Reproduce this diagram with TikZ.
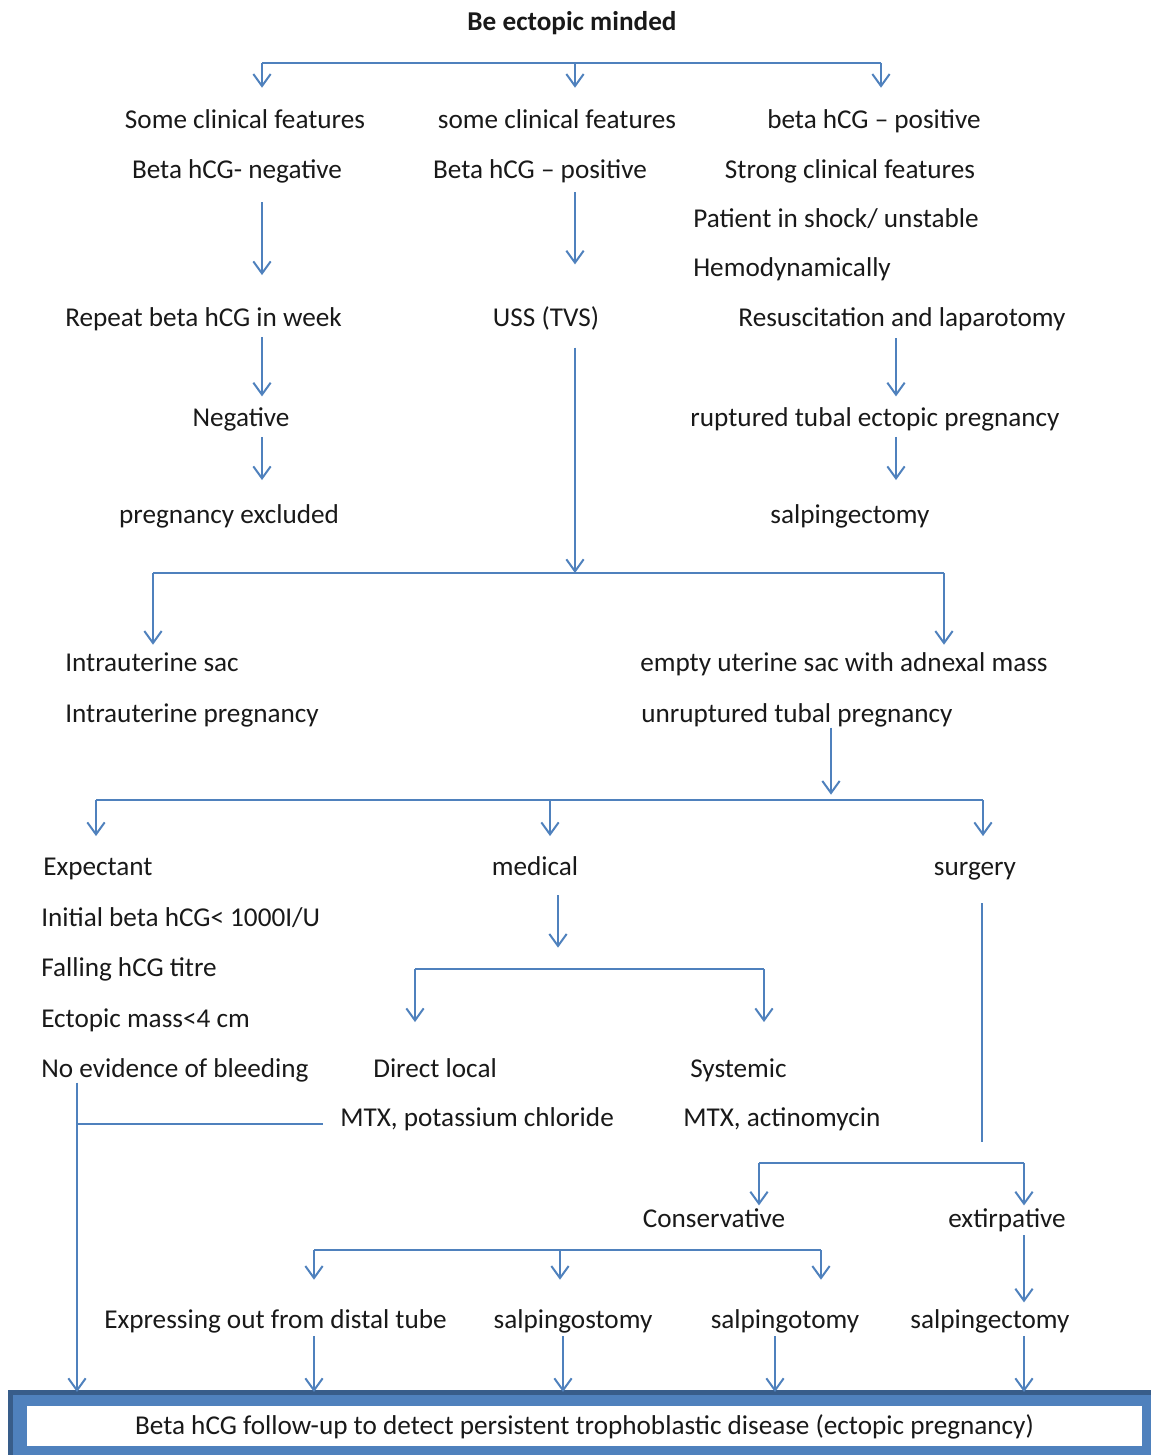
\documentclass[tikz,border=0pt]{standalone}
\usepackage{fontspec}
\setmainfont{Carlito}
\usepackage{tikz}
\usetikzlibrary{arrows.meta, calc}
\definecolor{linkblue}{RGB}{79,129,189}
\definecolor{boxblue}{RGB}{79,129,189}
\definecolor{framedark}{RGB}{56,93,138}
\tikzstyle{txt} = [inner sep=0pt, text height=16.5pt, text depth=3.5pt, font=\fontsize{20.4}{24}\selectfont, text=black!90]
\tikzstyle{link} = [draw=linkblue, line width=1.5pt]
\tikzstyle{arrow} = [link, -{Straight Barb[length=9pt, width=13pt]}]

\begin{document}
\begin{tikzpicture}[x=0.75pt, y=-0.75pt]
	\useasboundingbox (0,0) rectangle (1150,1455);
	\node (Title) [txt, font=\fontsize{20.4}{24}\selectfont\bfseries] at (572,22) {Be ectopic minded};
	% first level
	\node (Feat1) [txt] at (245,120) {Some clinical features};
	\node (Neg1) [txt] at (237,170) {Beta hCG- negative};
	\node (Repeat) [txt, anchor=west] at (65,318) {Repeat beta hCG in week};
	\node (Negative) [txt] at (241,418) {Negative};
	\node (Excluded) [txt] at (229,515) {pregnancy excluded};
	\node (Feat2) [txt] at (557,120) {some clinical features};
	\node (Pos2) [txt] at (540,170) {Beta hCG -- positive};
	\node (USS) [txt] at (546,318) {USS (TVS)};
	\node (Pos3) [txt] at (874,120) {beta hCG -- positive};
	\node (Strong) [txt] at (850,170) {Strong clinical features};
	\node (Shock) [txt, anchor=west] at (693,219) {Patient in shock/ unstable};
	\node (Hemo) [txt, anchor=west] at (693,268) {Hemodynamically};
	\node (Resus) [txt] at (902,318) {Resuscitation and laparotomy};
	\node (Ruptured) [txt] at (875,418) {ruptured tubal ectopic pregnancy};
	\node (Salpx1) [txt] at (850,515) {salpingectomy};
	% scan result
	\node (IUsac) [txt, anchor=west] at (65,663) {Intrauterine sac};
	\node (IUpreg) [txt, anchor=west] at (65,714) {Intrauterine pregnancy};
	\node (Empty) [txt, anchor=west] at (640,663) {empty uterine sac with adnexal mass};
	\node (Unrupt) [txt, anchor=west] at (641,714) {unruptured tubal pregnancy};
	% management
	\node (Expectant) [txt, anchor=west] at (43,867) {Expectant};
	\node (Initial) [txt, anchor=west] at (41,918) {Initial beta hCG< 1000I/U};
	\node (Falling) [txt, anchor=west] at (41,968) {Falling hCG titre};
	\node (Mass) [txt, anchor=west] at (41,1019) {Ectopic mass<4 cm};
	\node (Bleeding) [txt, anchor=west] at (41,1069) {No evidence of bleeding};
	\node (Medical) [txt] at (535,867) {medical};
	\node (Surgery) [txt] at (975,867) {surgery};
	\node (Direct) [txt, anchor=west] at (373,1069) {Direct local};
	\node (Kcl) [txt, anchor=west] at (340,1118) {MTX, potassium chloride};
	\node (Systemic) [txt, anchor=west] at (690,1069) {Systemic};
	\node (Actino) [txt, anchor=west] at (683,1118) {MTX, actinomycin};
	\node (Conservative) [txt] at (714,1219) {Conservative};
	\node (Extirp) [txt] at (1007,1219) {extirpative};
	\node (Distal) [txt, anchor=west] at (104,1320) {Expressing out from distal tube};
	\node (Ostomy) [txt] at (573,1320) {salpingostomy};
	\node (Otomy) [txt] at (785,1320) {salpingotomy};
	\node (Salpx2) [txt] at (990,1320) {salpingectomy};
	% follow-up box
	\node (Frame) [anchor=north west, fill=boxblue, minimum width=862.5pt, minimum height=52.5pt, inner sep=0pt] at (10,1392) {};
	\draw [framedark, line width=3.75pt] (Frame.south west) -- (Frame.north west) -- (Frame.north east);
	\node (FollowUp) [txt, fill=white, minimum width=836pt, minimum height=30pt] at (584.5,1426) {Beta hCG follow-up to detect persistent trophoblastic disease (ectopic pregnancy)};
	% branch points
	\coordinate (TopL) at (262,63);
	\coordinate (TopM) at (575,63);
	\coordinate (TopR) at (881,63);
	\coordinate (SplitL) at (153,573);
	\coordinate (SplitM) at (575,573);
	\coordinate (SplitR) at (944,573);
	\coordinate (MgmtL) at (96,800);
	\coordinate (MgmtM) at (550,800);
	\coordinate (MgmtR) at (983,800);
	\coordinate (MedL) at (415,969);
	\coordinate (MedR) at (764,969);
	\coordinate (SurgL) at (759,1163);
	\coordinate (SurgR) at (1024,1163);
	\coordinate (ConsL) at (314,1250);
	\coordinate (ConsM) at (560,1250);
	\coordinate (ConsR) at (821,1250);
	\coordinate (RightCol) at (896,0);
	\coordinate (TubalDrop) at (831,0);
	\coordinate (MedDrop) at (558,0);
	\coordinate (SurgDrop) at (982,0);
	\coordinate (ExpDrop) at (77,0);
	\coordinate (OstomyDrop) at (563,0);
	\coordinate (OtomyDrop) at (775,0);
	% top branches
	\draw [link] (TopL) -- (TopR);
	\draw [arrow, shorten >=14pt] (TopL) -- (TopL |- Feat1.north);
	\draw [arrow, shorten >=14pt] (TopM) -- (TopM |- Feat2.north);
	\draw [arrow, shorten >=14pt] (TopR) -- (TopR |- Pos3.north);
	% left column
	\draw [arrow, shorten <=14pt, shorten >=22pt] (Neg1.south -| TopL) -- (Repeat.north -| TopL);
	\draw [arrow, shorten <=4pt, shorten >=6pt] (Repeat.south -| TopL) -- (Negative.north -| TopL);
	\draw [arrow, shorten <=4pt, shorten >=16pt] (Negative.south -| TopL) -- (Excluded.north -| TopL);
	% middle column
	\draw [arrow, shorten <=6.5pt, shorten >=30pt] (Pos2.south -| TopM) -- (USS.north -| TopM);
	\draw [arrow, shorten <=12pt] (USS.south -| TopM) -- (SplitM);
	% right column
	\draw [arrow, shorten <=5pt, shorten >=6pt] (Resus.south -| RightCol) -- (Ruptured.north -| RightCol);
	\draw [arrow, shorten <=4pt, shorten >=16pt] (Ruptured.south -| RightCol) -- (Salpx1.north -| RightCol);
	% scan result
	\draw [link] (SplitL) -- (SplitR);
	\draw [arrow, shorten >=3.5pt] (SplitL) -- (SplitL |- IUsac.north);
	\draw [arrow, shorten >=3.5pt] (SplitR) -- (SplitR |- Empty.north);
	% management
	\draw [arrow, shorten >=4pt] (Unrupt.south -| TubalDrop) -- (TubalDrop |- MgmtM);
	\draw [link] (MgmtL) -- (MgmtR);
	\draw [arrow, shorten >=13pt] (MgmtL) -- (MgmtL |- Expectant.north);
	\draw [arrow, shorten >=13pt] (MgmtM) -- (MgmtM |- Medical.north);
	\draw [arrow, shorten >=13pt] (MgmtR) -- (MgmtR |- Surgery.north);
	% medical
	\draw [arrow, shorten <=11pt, shorten >=16pt] (Medical.south -| MedDrop) -- (MedDrop |- MedL);
	\draw [link] (MedL) -- (MedR);
	\draw [arrow, shorten >=25pt] (MedL) -- (MedL |- Direct.north);
	\draw [arrow, shorten >=25pt] (MedR) -- (MedR |- Systemic.north);
	% surgical
	\draw [link, shorten <=17pt, shorten >=16pt] (Surgery.south -| SurgDrop) -- (SurgDrop |- SurgL);
	\draw [link] (SurgL) -- (SurgR);
	\draw [arrow] (SurgL) -- (SurgL |- Conservative.north);
	\draw [arrow] (SurgR) -- (SurgR |- Extirp.north);
	\draw [arrow, shorten <=2pt, shorten >=3pt] (Extirp.south -| SurgR) -- (Salpx2.north -| SurgR);
	% conservative
	\draw [link] (ConsL) -- (ConsR);
	\draw [arrow, shorten >=20pt] (ConsL) -- (ConsL |- Distal.north);
	\draw [arrow, shorten >=20pt] (ConsM) -- (ConsM |- Ostomy.north);
	\draw [arrow, shorten >=20pt] (ConsR) -- (ConsR |- Otomy.north);
	% follow-up
	\draw [arrow] (Bleeding.south -| ExpDrop) -- (Frame.north -| ExpDrop);
	\draw [link, shorten >=12.75pt] (ExpDrop |- 0,1124) -- (Kcl.west |- 0,1124);
	\draw [arrow, shorten <=2pt] (Distal.south -| ConsL) -- (Frame.north -| ConsL);
	\draw [arrow, shorten <=2pt] (Ostomy.south -| OstomyDrop) -- (Frame.north -| OstomyDrop);
	\draw [arrow, shorten <=2pt] (Otomy.south -| OtomyDrop) -- (Frame.north -| OtomyDrop);
	\draw [arrow, shorten <=2pt] (Salpx2.south -| SurgR) -- (Frame.north -| SurgR);
\end{tikzpicture}
\end{document}
